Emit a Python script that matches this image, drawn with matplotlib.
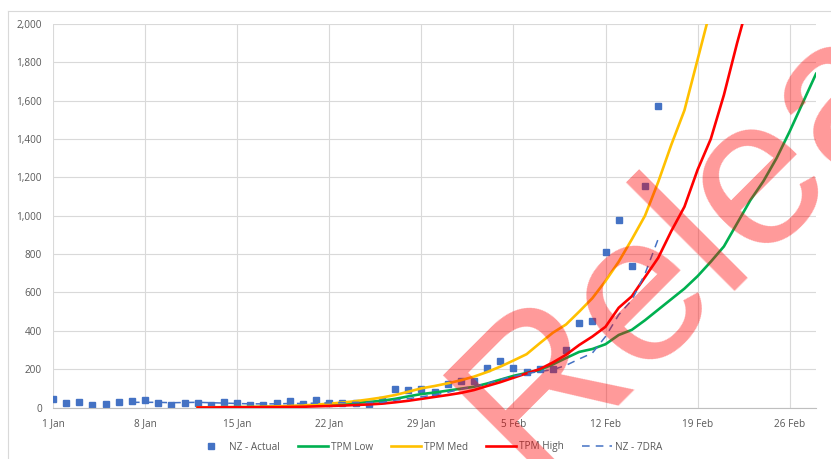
import matplotlib.pyplot as plt
from matplotlib.lines import Line2D
from matplotlib.ticker import FuncFormatter

# Day 0 = 1 Jan
tick_days = [0, 7, 14, 21, 28, 35, 42, 49, 56]
tick_labels = ['1 Jan', '8 Jan', '15 Jan', '22 Jan', '29 Jan', '5 Feb', '12 Feb', '19 Feb', '26 Feb']

# NZ daily actual cases (days 0..46)
actual_days = list(range(0, 47))
actual = [45, 22, 27, 13, 18, 30, 35, 41, 22, 13, 24, 24, 13, 27, 22, 13, 13, 24, 33, 18,
          40, 24, 24, 24, 18, 41, 98, 93, 96, 83, 123, 138, 140, 205, 240, 205, 187, 200,
          200, 300, 442, 451, 810, 978, 740, 1155, 1570]

# NZ 7 day rolling average (days 6..46)
dra_days = list(range(6, 47))
dra = [27, 27, 27, 25, 26, 27, 25, 23, 21, 19, 19, 19, 21, 21, 23, 24, 25, 27, 26, 27,
       38, 46, 56, 65, 79, 96, 110, 125, 146, 162, 177, 188, 197, 220, 253, 284, 370,
       483, 560, 697, 878]

# TPM model scenarios
low_days = list(range(11, 59))
tpm_low = [1, 1, 1, 2, 2, 3, 4, 6, 8, 11, 15, 19, 24, 29, 35, 45, 58, 70, 78, 88,
           98, 108, 125, 145, 165, 180, 196, 225, 258, 290, 305, 330, 378, 405, 455, 510,
           565, 620, 685, 760, 840, 960, 1080, 1180, 1300, 1440, 1590, 1740]

med_days = list(range(11, 51))
tpm_med = [1, 1, 2, 2, 3, 4, 6, 8, 11, 15, 20, 26, 33, 42, 52, 65, 82, 100, 112, 126,
           142, 161, 185, 213, 245, 278, 335, 390, 433, 500, 570, 660, 760, 877, 1000,
           1175, 1370, 1550, 1815, 2080]

high_days = list(range(11, 54))
tpm_high = [0, 0, 1, 1, 1, 2, 2, 3, 4, 6, 8, 10, 13, 16, 20, 27, 35, 45, 55, 65,
            76, 91, 112, 132, 155, 178, 200, 235, 275, 326, 370, 421, 520, 580, 680, 780,
            920, 1047, 1240, 1400, 1630, 1900, 2150]

W, H = 831, 459
fig = plt.figure(figsize=(W / 100, H / 100), dpi=100)
ax = fig.add_axes([53 / W, 1 - 407.5 / H, (816 - 53) / W, (407.5 - 24) / H])

ax.plot(actual_days, actual, 's', color='#4472C4', ms=4.7, label='NZ - Actual', zorder=2)
ax.plot(low_days, tpm_low, color='#00B050', lw=1.9, label='TPM Low', zorder=3)
ax.plot(med_days, tpm_med, color='#FFC000', lw=1.9, label='TPM Med', zorder=4)
ax.plot(high_days, tpm_high, color='#FF0000', lw=1.9, label='TPM High', zorder=5)
ax.plot(dra_days, dra, color='#4472C4', lw=1.1, dashes=(5, 4), label='NZ - 7DRA', zorder=6)

ax.set_xlim(0, 58)
ax.set_ylim(0, 2000)
ax.set_yticks(range(0, 2001, 200))
ax.yaxis.set_major_formatter(FuncFormatter(lambda v, p: f'{int(v):,}'))
ax.set_xticks(tick_days)
ax.set_xticklabels(tick_labels)

for lab in ax.get_xticklabels() + ax.get_yticklabels():
    lab.set_family('Open Sans')
    lab.set_fontsize(7.2)
    lab.set_color('#595959')
ax.tick_params(axis='both', length=0)
ax.tick_params(axis='y', pad=8)
ax.tick_params(axis='x', pad=8)

ax.grid(True, color='#d9d9d9', lw=0.8)
ax.set_axisbelow(True)
for s in ['top', 'right', 'left']:
    ax.spines[s].set_visible(False)
ax.spines['bottom'].set_color('#bfbfbf')
ax.spines['bottom'].set_linewidth(0.8)

fig.legend(loc='center', bbox_to_anchor=(429 / W, 1 - 447 / H), ncol=5, frameon=False,
           prop={'family': 'Open Sans', 'size': 7.2}, labelcolor='#595959',
           handlelength=3.0, handletextpad=0.3, columnspacing=1.8)

# chart area border (cropped screenshot)
fig.add_artist(Line2D([8 / W, 1], [1 - 11 / H, 1 - 11 / H], color='#d9d9d9', lw=0.8))
fig.add_artist(Line2D([8 / W, 8 / W], [0, 1 - 11 / H], color='#d9d9d9', lw=0.8))

# watermark
fig.text(529 / W, 1 - 479 / H, 'Released', rotation=45, rotation_mode='anchor',
         ha='left', va='baseline', fontsize=152, color='#FF0000', alpha=0.4,
         family='Liberation Sans', zorder=10)

fig.savefig('out.png', dpi=100)
